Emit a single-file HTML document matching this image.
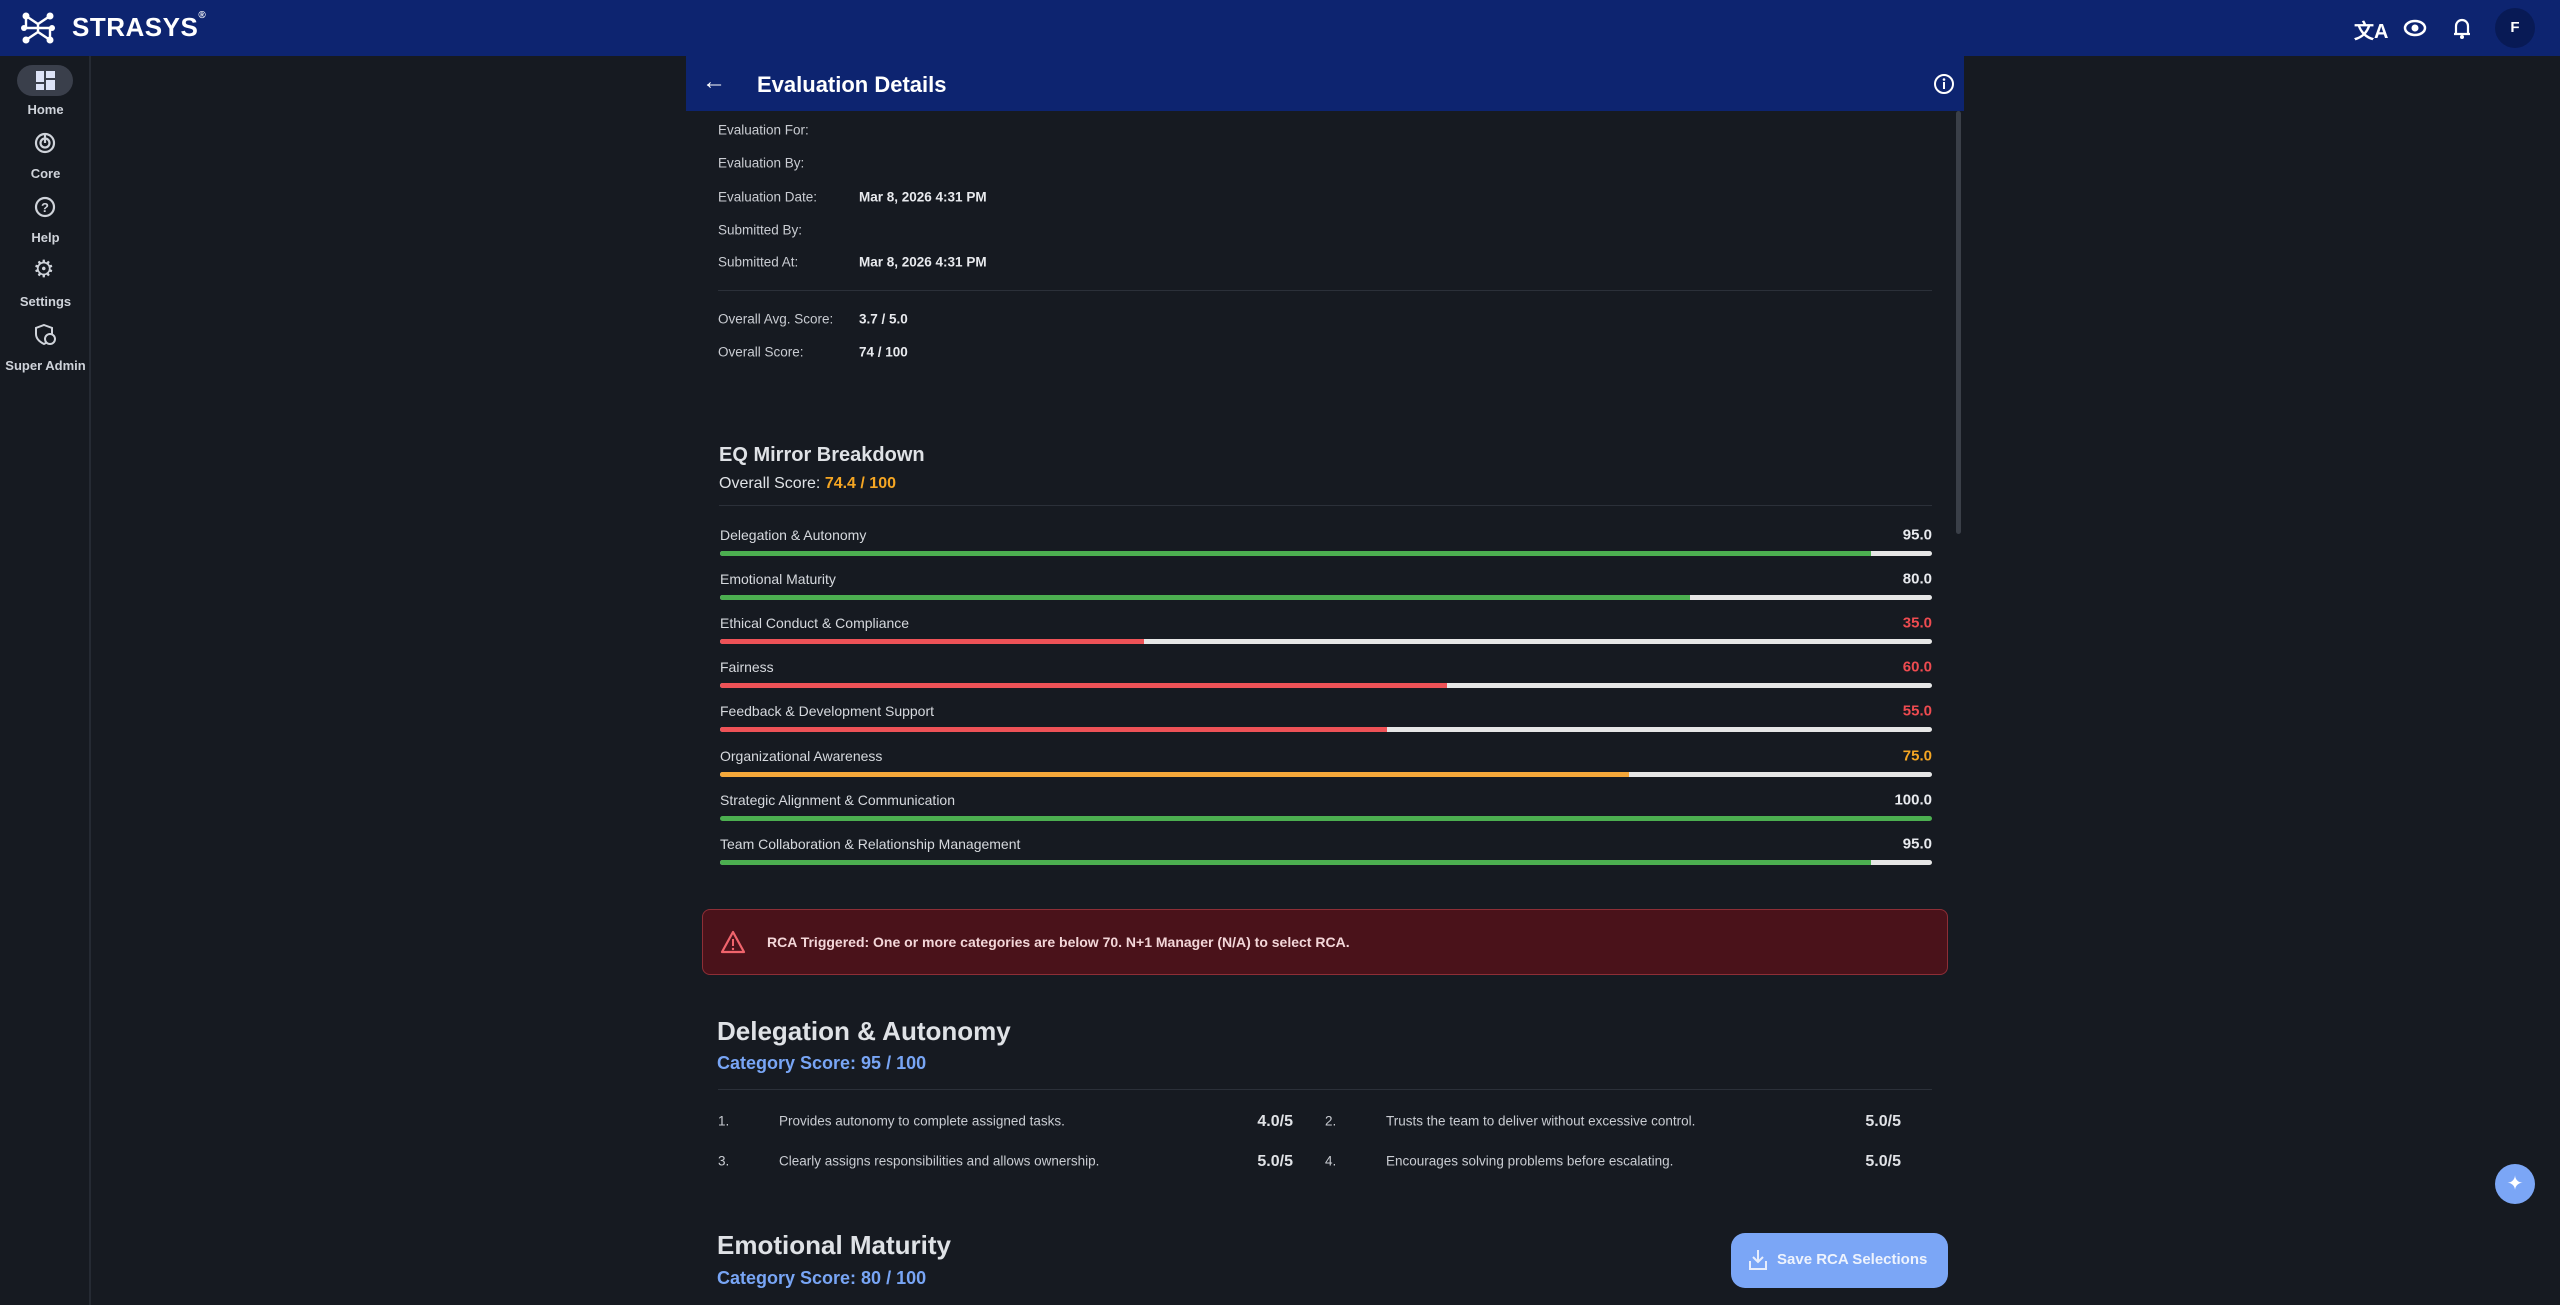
<!DOCTYPE html>
<html><head><meta charset="utf-8"><style>
*{box-sizing:border-box;margin:0;padding:0}
body{width:2560px;height:1305px;background:#161a21;font-family:"Liberation Sans",sans-serif;color:#d6d9de;position:relative;overflow:hidden}
.abs{position:absolute}
#topbar{left:0;top:0;width:2560px;height:56px;background:#0d2470}
#sidebar{left:0;top:56px;width:91px;height:1249px;border-right:2px solid #252a33}
.nav{position:absolute;left:0;width:91px;text-align:center;font-size:13px;font-weight:bold;color:#cfd3da}
.lbl{position:absolute;font-size:13.5px;color:#c9ccd2;transform:translateY(-50%)}
.val{position:absolute;font-size:13.5px;color:#e8eaee;font-weight:bold;transform:translateY(-50%)}
.sep{position:absolute;height:1px;background:#2b3039}
.cat{position:absolute;left:720px;font-size:14px;color:#d6d9de;transform:translateY(-50%)}
.num{position:absolute;right:628px;font-size:15px;font-weight:bold;transform:translateY(-50%)}
.it{position:absolute;font-size:13.5px;color:#c9ccd2;transform:translateY(-50%)}
.sc{position:absolute;font-size:16px;font-weight:bold;color:#e0e2e6;transform:translateY(-50%);text-align:right;width:80px}
</style></head><body>
<div id="topbar" class="abs">
  <svg class="abs" style="left:18px;top:8px" width="40" height="40" viewBox="0 0 40 40">
    <g stroke="#fff" stroke-width="2.4" fill="none"><path d="M8 8 L20 16 L32 8 M8 32 L20 24 L32 32 M8 8 L8 20 M32 20 L32 32 M20 16 L20 24 M6 20 L34 20"/></g>
    <g fill="#fff"><circle cx="8" cy="8" r="3.5"/><circle cx="32" cy="8" r="3.5"/><circle cx="8" cy="32" r="3.5"/><circle cx="32" cy="32" r="3.5"/><circle cx="6" cy="20" r="3"/><circle cx="34" cy="20" r="3"/></g>
  </svg>
  <div class="abs" style="left:72px;top:12px;font-size:26px;font-weight:bold;color:#fff;letter-spacing:0.5px">STRASYS<sup style="font-size:10px;vertical-align:top;position:relative;top:-2px">®</sup></div>
  <div class="abs" style="left:2354px;top:15px;font-size:20px;color:#fff;font-weight:bold">文A</div>
  <svg class="abs" style="left:2403px;top:17px" width="24" height="22" viewBox="0 0 24 22"><ellipse cx="12" cy="11" rx="10" ry="7" fill="none" stroke="#fff" stroke-width="2.5"/><circle cx="12" cy="11" r="3.5" fill="#fff"/></svg>
  <svg class="abs" style="left:2452px;top:16px" width="20" height="24" viewBox="0 0 20 24"><path d="M4 18 V10 a6 6 0 0 1 12 0 V18 Z M2 18 H18" fill="none" stroke="#fff" stroke-width="2.2"/><circle cx="10" cy="21" r="2" fill="#fff"/></svg>
  <div class="abs" style="left:2495px;top:8px;width:40px;height:40px;border-radius:50%;background:#081a55;color:#fff;font-weight:bold;font-size:15px;text-align:center;line-height:40px">F</div>
</div>
<div id="sidebar" class="abs">
  <div class="abs" style="left:17px;top:9px;width:56px;height:31px;border-radius:16px;background:#3a3f4b"></div>
  <svg class="abs" style="left:36px;top:15px" width="19" height="19" viewBox="0 0 19 19"><rect x="0" y="0" width="8" height="11" fill="#dde3f7"/><rect x="10" y="0" width="9" height="7" fill="#dde3f7"/><rect x="0" y="13" width="8" height="6" fill="#dde3f7"/><rect x="10" y="9" width="9" height="10" fill="#dde3f7"/></svg>
  <div class="nav" style="top:46px">Home</div>
  <svg class="abs" style="left:34px;top:76px" width="22" height="22" viewBox="0 0 22 22"><circle cx="11" cy="11" r="9" fill="none" stroke="#cfd3da" stroke-width="2.2"/><circle cx="11" cy="11" r="4.5" fill="none" stroke="#cfd3da" stroke-width="2.2"/><path d="M11 2 V11" stroke="#cfd3da" stroke-width="2.2"/></svg>
  <div class="nav" style="top:110px">Core</div>
  <svg class="abs" style="left:34px;top:140px" width="22" height="22" viewBox="0 0 22 22"><circle cx="11" cy="11" r="9" fill="none" stroke="#cfd3da" stroke-width="2.2"/><text x="11" y="16" text-anchor="middle" font-size="13" font-weight="bold" fill="#cfd3da" font-family="Liberation Sans">?</text></svg>
  <div class="nav" style="top:174px">Help</div>
  <div class="abs" style="left:33px;top:199px;font-size:24px;color:#cfd3da">⚙</div>
  <div class="nav" style="top:238px">Settings</div>
  <svg class="abs" style="left:35px;top:268px" width="22" height="22" viewBox="0 0 22 22"><path d="M9 1 L17 4 V10 C17 15 13 18 9 20 C5 18 1 15 1 10 V4 Z" fill="none" stroke="#cfd3da" stroke-width="2"/><circle cx="15" cy="15" r="5" fill="#161a21" stroke="#cfd3da" stroke-width="2"/></svg>
  <div class="nav" style="top:302px">Super Admin</div>
</div>

<div class="abs" style="left:686px;top:56px;width:1278px;height:1249px"></div>
<div class="abs" style="left:686px;top:56px;width:1278px;height:55px;background:#0d2470">
  <div class="abs" style="left:16px;top:12px;font-size:24px;color:#fff">←</div>
  <div class="abs" style="left:71px;top:16px;font-size:22px;font-weight:bold;color:#fff">Evaluation Details</div>
  <svg class="abs" style="left:1247px;top:17px" width="22" height="22" viewBox="0 0 22 22"><circle cx="11" cy="11" r="9" fill="none" stroke="#fff" stroke-width="2"/><rect x="10" y="9" width="2" height="7" fill="#fff"/><circle cx="11" cy="6.5" r="1.3" fill="#fff"/></svg>
</div>
<div class="abs" style="left:1956px;top:111px;width:5px;height:423px;background:#3a3f48;border-radius:3px"></div>

<div class="lbl" style="left:718px;top:130px">Evaluation For:</div>
<div class="lbl" style="left:718px;top:163px">Evaluation By:</div>
<div class="lbl" style="left:718px;top:197px">Evaluation Date:</div>
<div class="val" style="left:859px;top:197px">Mar 8, 2026 4:31 PM</div>
<div class="lbl" style="left:718px;top:230px">Submitted By:</div>
<div class="lbl" style="left:718px;top:262px">Submitted At:</div>
<div class="val" style="left:859px;top:262px">Mar 8, 2026 4:31 PM</div>
<div class="sep" style="left:718px;top:290px;width:1214px"></div>
<div class="lbl" style="left:718px;top:319px">Overall Avg. Score:</div>
<div class="val" style="left:859px;top:319px">3.7 / 5.0</div>
<div class="lbl" style="left:718px;top:352px">Overall Score:</div>
<div class="val" style="left:859px;top:352px">74 / 100</div>

<div class="abs" style="left:719px;top:444px;font-size:20px;font-weight:bold;color:#dfe2e6">EQ Mirror Breakdown</div>
<div class="abs" style="left:719px;top:475px;font-size:16px;color:#dfe2e6">Overall Score: <span style="color:#f5a623;font-weight:bold">74.4 / 100</span></div>
<div class="sep" style="left:719px;top:505px;width:1213px"></div>
<div id="bars"></div>

<div class="abs" style="left:702px;top:909px;width:1246px;height:66px;background:#4a121a;border:1.5px solid #8e2e36;border-radius:8px">
  <svg class="abs" style="left:17px;top:20px" width="26" height="24" viewBox="0 0 26 24"><path d="M13 2 L24 22 H2 Z" fill="none" stroke="#f0646c" stroke-width="2.2" stroke-linejoin="round"/><rect x="12" y="9" width="2" height="7" fill="#f0646c"/><circle cx="13" cy="19" r="1.2" fill="#f0646c"/></svg>
  <div class="abs" style="left:64px;top:24px;font-size:14px;font-weight:bold;color:#f3d6d8">RCA Triggered: One or more categories are below 70. N+1 Manager (N/A) to select RCA.</div>
</div>

<div class="abs" style="left:717px;top:1016px;font-size:26px;font-weight:bold;color:#dfe2e6">Delegation &amp; Autonomy</div>
<div class="abs" style="left:717px;top:1053px;font-size:18px;font-weight:bold;color:#78a5f5">Category Score: 95 / 100</div>
<div class="sep" style="left:718px;top:1089px;width:1214px"></div>
<div class="it" style="left:718px;top:1121px">1.</div>
<div class="it" style="left:779px;top:1121px">Provides autonomy to complete assigned tasks.</div>
<div class="sc" style="left:1213px;top:1122px">4.0/5</div>
<div class="it" style="left:1325px;top:1121px">2.</div>
<div class="it" style="left:1386px;top:1121px">Trusts the team to deliver without excessive control.</div>
<div class="sc" style="left:1821px;top:1122px">5.0/5</div>
<div class="it" style="left:718px;top:1161px">3.</div>
<div class="it" style="left:779px;top:1161px">Clearly assigns responsibilities and allows ownership.</div>
<div class="sc" style="left:1213px;top:1162px">5.0/5</div>
<div class="it" style="left:1325px;top:1161px">4.</div>
<div class="it" style="left:1386px;top:1161px">Encourages solving problems before escalating.</div>
<div class="sc" style="left:1821px;top:1162px">5.0/5</div>

<div class="abs" style="left:717px;top:1230px;font-size:26px;font-weight:bold;color:#dfe2e6">Emotional Maturity</div>
<div class="abs" style="left:717px;top:1268px;font-size:18px;font-weight:bold;color:#78a5f5">Category Score: 80 / 100</div>

<div class="abs" style="left:1731px;top:1233px;width:217px;height:55px;background:#7ba6f6;border-radius:14px">
  <svg class="abs" style="left:17px;top:16px" width="20" height="22" viewBox="0 0 20 22"><path d="M10 1 V13 M5 8 L10 13 L15 8 M2 12 V20 H18 V12" fill="none" stroke="#e8eefc" stroke-width="2"/></svg>
  <div class="abs" style="left:46px;top:18px;font-size:15px;font-weight:bold;color:#eef3fd">Save RCA Selections</div>
</div>
<div class="abs" style="left:2495px;top:1164px;width:40px;height:40px;border-radius:50%;background:#7ba6f6;color:#fff;font-size:20px;text-align:center;line-height:40px">✦</div>

<script>
const categories = ["Delegation & Autonomy","Emotional Maturity","Ethical Conduct & Compliance","Fairness","Feedback & Development Support","Organizational Awareness","Strategic Alignment & Communication","Team Collaboration & Relationship Management"];
const scores = [95,80,35,60,55,75,100,95];
const maxScore = 100;
(function(){
  const host = document.getElementById('bars');
  const x0 = 720, w = 1212, y0 = 535, step = 44.1;
  const xScale = v => v / maxScore * w;
  function colorFor(v){ return v < 70 ? '#ee5257' : (v < 80 ? '#f5a83a' : '#4caf50'); }
  function textColor(v){ return v < 70 ? '#ee4b50' : (v < 80 ? '#f5a623' : '#e8eaee'); }
  categories.forEach((c, i) => {
    const y = y0 + i * step;
    const lab = document.createElement('div');
    lab.className = 'cat';
    lab.style.top = y + 'px';
    lab.textContent = c;
    
    
    host.appendChild(lab);
    const num = document.createElement('div');
    num.className = 'num';
    num.style.top = y + 'px';
    num.style.color = textColor(scores[i]);
    num.textContent = scores[i].toFixed(1);
    
    
    host.appendChild(num);
    const track = document.createElement('div');
    track.className = 'abs';
    track.style.cssText = `left:${x0}px;top:${y+16}px;width:${w}px;height:5px;background:#e6e6e6;border-radius:3px;overflow:hidden`;
    
    
    const fill = document.createElement('div');
    fill.style.cssText = `width:${xScale(scores[i])}px;height:5px;background:${colorFor(scores[i])}`;
    
    
    track.appendChild(fill);
    host.appendChild(track);
  });
})();
</script>
</body></html>
